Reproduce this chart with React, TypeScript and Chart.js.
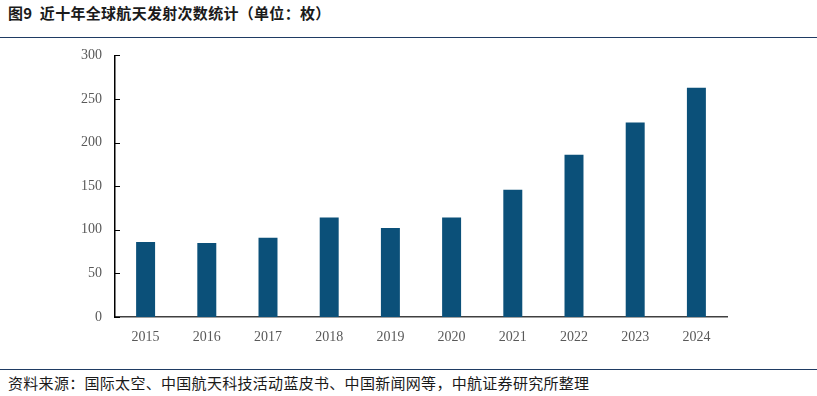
import React, { useEffect, useRef } from "react";
import { Chart, registerables } from "chart.js";

Chart.register(...registerables);

const categories = ["2015", "2016", "2017", "2018", "2019", "2020", "2021", "2022", "2023", "2024"];
const launches = [86, 85, 91, 114, 102, 114, 146, 186, 223, 263];
const yTicks = [0, 50, 100, 150, 200, 250, 300];

const titleText = "图9  近十年全球航天发射次数统计（单位：枚）";
const sourceText = "资料来源：国际太空、中国航天科技活动蓝皮书、中国新闻网等，中航证券研究所整理";

const innerTicks = {
  id: "innerTicks",
  afterDraw(chart: any) {
    const y = chart.scales.y;
    const ctx = chart.ctx;
    ctx.save();
    ctx.strokeStyle = "#000";
    ctx.lineWidth = 1;
    yTicks.forEach((v) => {
      const py = Math.round(y.getPixelForValue(v)) + 0.5;
      const x0 = chart.chartArea.left;
      ctx.beginPath();
      ctx.moveTo(x0, py);
      ctx.lineTo(x0 + 5, py);
      ctx.stroke();
    });
    ctx.restore();
  },
};

export default function App() {
  const ref = useRef<HTMLCanvasElement>(null);
  useEffect(() => {
    if (!ref.current) return;
    const chart = new Chart(ref.current, {
      type: "bar",
      data: {
        labels: categories,
        datasets: [
          {
            data: launches,
            backgroundColor: "#0b5079",
            borderWidth: 0,
            barPercentage: 0.31,
            categoryPercentage: 1,
          },
        ],
      },
      options: {
        animation: false,
        responsive: true,
        maintainAspectRatio: false,
        layout: { padding: { top: 10, right: 33, left: 0, bottom: 0 } },
        plugins: { legend: { display: false }, tooltip: { enabled: false } },
        scales: {
          x: {
            grid: { display: false, drawTicks: false },
            border: { display: true, color: "#404040", width: 1.5 },
            ticks: {
              color: "#595959",
              font: { family: "'Liberation Serif', serif", size: 14 },
              padding: 12,
              maxRotation: 0,
            },
            afterFit: (s: any) => {
              s.height = 38;
            },
          },
          y: {
            min: 0,
            max: 300,
            afterBuildTicks: (s: any) => {
              s.ticks = yTicks.map((v) => ({ value: v }));
            },
            grid: { display: false, drawTicks: false },
            border: { display: true, color: "#000", width: 1.5 },
            ticks: {
              color: "#595959",
              font: { family: "'Liberation Serif', serif", size: 14 },
              padding: 13,
            },
            afterFit: (s: any) => {
              s.width = 115;
            },
          },
        },
      },
      plugins: [innerTicks],
    });
    return () => chart.destroy();
  }, []);

  return (
    <div
      style={{
        position: "fixed",
        left: 0,
        top: 0,
        width: 817,
        height: 396,
        background: "#fff",
        overflow: "hidden",
      }}
    >
      <div
        style={{
          position: "absolute",
          left: 8,
          top: 3,
          fontFamily: "'Noto Sans CJK SC', sans-serif",
          fontWeight: 700,
          fontSize: 15,
          letterSpacing: "0.3px",
          color: "#1a1a1a",
          whiteSpace: "pre",
          lineHeight: "20px",
        }}
      >
        {titleText}
      </div>
      <div style={{ position: "absolute", left: 0, top: 37, width: 817, height: 1, background: "#1f3b63" }} />
      <div style={{ position: "absolute", left: 0, top: 34, width: 760, height: 321 }}>
        <canvas ref={ref} />
      </div>
      <div style={{ position: "absolute", left: 0, top: 369, width: 817, height: 1, background: "#1f3b63" }} />
      <div
        style={{
          position: "absolute",
          left: 8,
          top: 373,
          fontFamily: "'Noto Sans CJK SC', sans-serif",
          fontSize: 15,
          letterSpacing: "0.3px",
          color: "#1a1a1a",
          whiteSpace: "pre",
          lineHeight: "20px",
        }}
      >
        {sourceText}
      </div>
    </div>
  );
}
